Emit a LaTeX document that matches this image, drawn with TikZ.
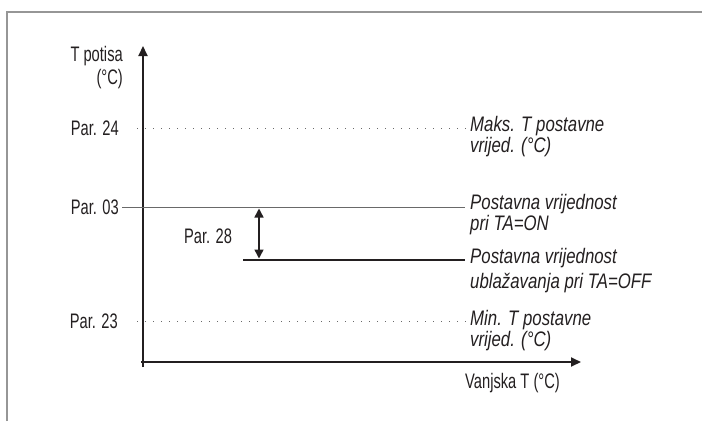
\documentclass[tikz,border=0pt]{standalone}
\usepackage{fontspec}
\setmainfont{Liberation Sans}
\newfontfamily\axisfont{Liberation Sans}[FakeStretch=0.70]
\newfontfamily\notefont{Liberation Sans}[FakeStretch=0.80]
\usetikzlibrary{arrows.meta}
\definecolor{inkgray}{RGB}{35,31,32}
\definecolor{rulegray}{RGB}{105,105,105}
\definecolor{framegray}{RGB}{150,150,150}

\begin{document}
\begin{tikzpicture}[x=1pt,y=-1pt,>={Triangle[length=10pt,width=9pt]}]
\tikzset{
  parlabel/.style={inner sep=0pt,font=\fontsize{21}{19}\axisfont,text=inkgray},
  note/.style={inner sep=0pt,align=left,anchor=base west,
               font=\fontsize{21}{19}\notefont\itshape,text=inkgray},
  axisline/.style={draw=inkgray,line width=2pt},
  dotline/.style={draw=rulegray,line width=1.3pt,dash pattern=on 1.3pt off 6.7pt},
  setline/.style={draw=rulegray,line width=1.5pt}
}
\useasboundingbox (0,0) rectangle (702,421);
\draw[draw=framegray,line width=2pt] (7,421) -- (7,12) -- (702,12);

% axes
\coordinate (ybot) at (143,367);
\coordinate (ytop) at (143,46);
\coordinate (xleft) at (141,362);
\coordinate (xright) at (581,362);
\draw[axisline,->] (ybot) -- (ytop);
\draw[axisline,->] (xleft) -- (xright);
\node[parlabel,anchor=base east] (tpot) at (123,84.5) {\shortstack[r]{T potisa\\(°C)}};
\node[parlabel,anchor=base west] (vanj) at (465,388) {Vanjska T (°C)};

% levels (multi-line nodes sit on their last line)
\node[parlabel,anchor=base east] (p24) at (119,135.5) {Par. 24};
\node[parlabel,anchor=base east] (p03) at (119,214.5) {Par. 03};
\node[parlabel,anchor=base east] (p23) at (118,328.5) {Par. 23};
\node[parlabel,anchor=base] (p28) at (208,243) {Par. 28};

\node[note] (maks) at (470,152) {Maks. T postavne\\vrijed. (°C)};
\node[note] (pon) at (470,230) {Postavna vrijednost\\pri TA=ON};
\node[note] (poff) at (470,288.5) {Postavna vrijednost\\[4pt]ublažavanja pri TA=OFF};
\node[note] (mins) at (470,346) {Min. T postavne\\vrijed. (°C)};

\draw[dotline] ([xshift=18pt]p24.east) -- ([xshift=-4pt]maks.west |- p24.east);
\draw[setline] ([xshift=3pt]p03.east) -- ([xshift=-5pt]pon.west |- p03.east);
\draw[dotline] ([xshift=19pt]p23.east) -- ([xshift=-4pt]mins.west |- p23.east);
\coordinate (offstart) at (243,260);
\draw[draw=inkgray,line width=1.3pt] (offstart) -- ([xshift=-5pt]poff.west |- offstart);

% Par. 28 span
\coordinate (d28a) at (259,208.5);
\coordinate (d28b) at (259,258.5);
\draw[draw=inkgray,line width=1.5pt,{Triangle[length=9pt,width=9pt]}-{Triangle[length=9pt,width=9pt]}] (d28a) -- (d28b);
\end{tikzpicture}
\end{document}
